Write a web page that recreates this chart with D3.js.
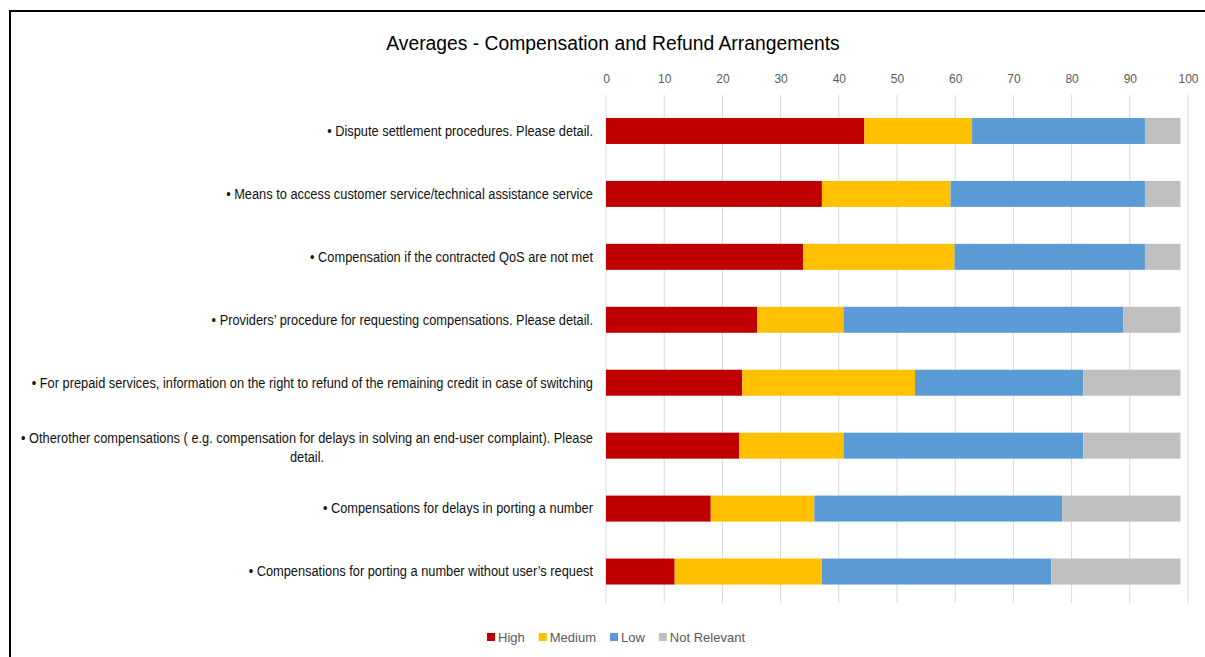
<!DOCTYPE html>
<html>
<head>
<meta charset="utf-8">
<script src="https://cdn.jsdelivr.net/npm/d3@7"></script>
<style>
  html, body { margin: 0; padding: 0; background: #fff; }
  svg { display: block; }
</style>
</head>
<body>
<svg id="chart" width="1205" height="657"></svg>
<script>
// Category labels, top to bottom (a second line is used where the label wraps)
const categories = [
  "• Dispute settlement procedures. Please detail.",
  "• Means to access customer service/technical assistance service",
  "• Compensation if the contracted QoS are not met",
  "• Providers’ procedure for requesting compensations. Please detail.",
  "• For prepaid services, information on the right to refund of the remaining credit in case of switching",
  "• Otherother compensations ( e.g. compensation for delays in solving an end-user complaint). Please|detail.",
  "• Compensations for delays in porting a number",
  "• Compensations for porting a number without user’s request"
];

const seriesNames = ["High", "Medium", "Low", "Not Relevant"];

// Average share per rating, one value per category
const high        = [44.4, 37.1, 33.9, 26.0, 23.4, 22.9, 18.0, 11.8];
const medium      = [18.5, 22.1, 26.0, 14.8, 29.7, 17.9, 17.8, 25.3];
const low         = [29.7, 33.4, 32.7, 48.1, 28.9, 41.2, 42.6, 39.4];
const notRelevant = [ 6.1,  6.1,  6.1,  9.8, 16.7, 16.7, 20.3, 22.2];

const tickValues = [0, 10, 20, 30, 40, 50, 60, 70, 80, 90, 100];

const colors = ["#C00000", "#FFC000", "#5B9BD5", "#BFBFBF"];

const svg = d3.select("#chart");
const font = "'Liberation Sans', Arial, sans-serif";
// Labels are set in a condensed style
const condense = 0.915;

// Frame around the chart area
svg.append("path")
  .attr("d", "M10,657 L10,11 L1205,11")
  .attr("fill", "none")
  .attr("stroke", "#000")
  .attr("stroke-width", 2);

const x = d3.scaleLinear().domain([0, 100]).range([606, 1188]);
const y = d3.scaleBand()
  .domain(categories)
  .range([99.5, 603])
  .paddingInner(0.587)
  .paddingOuter(0.2935);

function squeeze(sel, k) {
  const w = sel.node().getComputedTextLength();
  sel.attr("textLength", w * k).attr("lengthAdjust", "spacingAndGlyphs");
  return w * k;
}

// Title
const title = svg.append("text")
  .attr("x", 613)
  .attr("y", 50)
  .attr("text-anchor", "middle")
  .attr("font-family", font)
  .attr("font-size", 20)
  .attr("fill", "#000")
  .text("Averages - Compensation  and Refund Arrangements");
squeeze(title, 0.965);

// Vertical gridlines
svg.append("g")
  .selectAll("line")
  .data(tickValues)
  .join("line")
  .attr("x1", d => x(d)).attr("x2", d => x(d))
  .attr("y1", 95).attr("y2", 603)
  .attr("stroke", "#D9D9D9")
  .attr("stroke-width", 1);

// Top axis tick labels
const axis = svg.append("g")
  .attr("transform", "translate(0,83)")
  .call(d3.axisTop(x).tickValues(tickValues).tickSize(0).tickPadding(0));
axis.select(".domain").remove();
axis.selectAll("text")
  .attr("font-family", font)
  .attr("font-size", 12)
  .attr("fill", "#595959");

// Stacked bars
const rows = categories.map((c, i) => ({
  cat: c, High: high[i], Medium: medium[i], Low: low[i], "Not Relevant": notRelevant[i]
}));
const stacked = d3.stack().keys(seriesNames)(rows);

svg.append("g")
  .selectAll("g")
  .data(stacked)
  .join("g")
  .attr("fill", (d, i) => colors[i])
  .selectAll("rect")
  .data(d => d)
  .join("rect")
  .attr("x", d => x(d[0]))
  .attr("width", d => x(d[1]) - x(d[0]))
  .attr("y", d => y(d.data.cat))
  .attr("height", y.bandwidth());

// Category labels
const labelX = 593;
const labels = svg.append("g")
  .attr("font-family", font)
  .attr("font-size", 14)
  .attr("fill", "#111");

categories.forEach(c => {
  const parts = c.split("|");
  const cy = y(c) + y.bandwidth() / 2;
  if (parts.length === 1) {
    const t = labels.append("text")
      .attr("x", labelX).attr("y", cy)
      .attr("dy", "0.35em")
      .attr("text-anchor", "end")
      .text(parts[0]);
    squeeze(t, condense);
  } else {
    const first = labels.append("text")
      .attr("x", labelX).attr("y", cy - 8)
      .attr("dy", "0.35em")
      .attr("text-anchor", "end")
      .text(parts[0]);
    const w = squeeze(first, condense);
    const second = labels.append("text")
      .attr("x", labelX - w / 2).attr("y", cy + 11)
      .attr("dy", "0.35em")
      .attr("text-anchor", "middle")
      .text(parts[1]);
    squeeze(second, condense);
  }
});

// Legend
const legend = svg.append("g")
  .attr("font-family", font)
  .attr("font-size", 13)
  .attr("fill", "#595959");
let lx = 0;
seriesNames.forEach((name, i) => {
  const g = legend.append("g").attr("transform", `translate(${lx},0)`);
  g.append("rect")
    .attr("x", 0).attr("y", -4)
    .attr("width", 8).attr("height", 8)
    .attr("fill", colors[i]);
  const t = g.append("text")
    .attr("x", 11).attr("y", 0)
    .attr("dy", "0.35em")
    .text(name);
  lx += 11 + t.node().getComputedTextLength() + 14;
});
const legendWidth = lx - 14;
legend.attr("transform", `translate(${616 - legendWidth / 2},637)`);
</script>
</body>
</html>
